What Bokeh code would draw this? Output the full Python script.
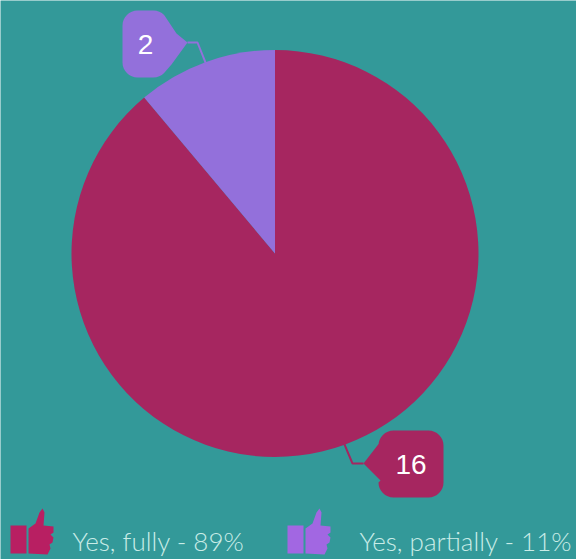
from math import cos, sin, pi, radians
from bokeh.core.properties import value
from bokeh.embed import file_html
from bokeh.models import Range1d
from bokeh.plotting import figure
from bokeh.resources import INLINE

W, H = 576, 559

categories = ["Yes, fully", "Yes, partially"]
counts = [16, 2]
percent_labels = ["89%", "11%"]
slice_colors = ["#A62660", "#9370DB"]
thumb_colors = ["#B81F62", "#A267E2"]
background = "#339999"
legend_text = "#C9ECE7"
font = value("Lato Light")

CX, CY, R = 274.5, 253, 203.5


def fy(y):
    """Page-style y (downwards) to the plot's upward data y."""
    return H - y


p = figure(width=W, height=H, output_backend="svg", toolbar_location=None,
           x_range=Range1d(0, W), y_range=Range1d(0, H), min_border=0,
           background_fill_color=background, border_fill_color=background)
p.axis.visible = False
p.grid.visible = False
p.outline_line_color = None

# Pie: slices run clockwise from 12 o'clock; remember each slice's mid angle.
total = sum(counts)
start = 0.0
mid_angles = []
for count, color in zip(counts, slice_colors):
    sweep = 360.0 * count / total
    p.wedge(x=[CX], y=[fy(CY)], radius=R, start_angle=radians(90 - start),
            end_angle=radians(90 - start - sweep), direction="clock",
            fill_color=color, line_color=None)
    mid_angles.append(start + sweep / 2)
    start += sweep


def corner(cx, cy, r, a0, a1, n=8):
    return [(cx + r * cos(radians(a0 + (a1 - a0) * i / n)),
             cy + r * sin(radians(a0 + (a1 - a0) * i / n))) for i in range(n + 1)]


def callout(x0, y0, x1, y1, tip, side, flare_top, flare_bottom, r=15):
    """Rounded label box with a wedge-shaped pointer on one vertical edge."""
    top_left = corner(x0 + r, y0 + r, r, 180, 270)
    top_right = corner(x1 - r, y0 + r, r, 270, 360)
    bottom_right = corner(x1 - r, y1 - r, r, 0, 90)
    bottom_left = corner(x0 + r, y1 - r, r, 90, 180)
    if side == "left":
        pointer = [(x0 + 2, flare_bottom), tip, (x0 + 2, flare_top)]
        pts = top_right + bottom_right + bottom_left + pointer + top_left
    else:
        pointer = [(x1 - 2, flare_top), (x1 + 8, flare_top + 15), tip, (x1 + 3, flare_bottom - 8), (x1 - 4, flare_bottom)]
        pts = top_left + top_right[:5] + pointer + bottom_right[4:] + bottom_left
    return [q[0] for q in pts], [fy(q[1]) for q in pts]


def rim_point(clock_angle, radius):
    return CX + radius * sin(radians(clock_angle)), CY - radius * cos(radians(clock_angle))


# Value callouts, each with a thin leader from the rim of its slice.
boxes = [
    dict(box=(378, 430, 443, 497), tip=(363, 463), elbow=(352, 463), side="left", flare=(441, 480)),
    dict(box=(122, 10, 168, 77), tip=(187, 42), elbow=(197, 42), side="right", flare=(18, 72)),
]
for count, color, mid, b in zip(counts, slice_colors, mid_angles, boxes):
    x0, y0, x1, y1 = b["box"]
    xs, ys = callout(x0, y0, x1, y1, b["tip"], b["side"], *b["flare"])
    p.patch(xs, ys, fill_color=color, line_color=None)
    anchor = rim_point(mid, R - 1)
    p.line([b["tip"][0], b["elbow"][0], anchor[0]],
           [fy(b["tip"][1]), fy(b["elbow"][1]), fy(anchor[1])],
           line_color=color, line_width=2)
    p.text([(x0 + x1) / 2], [fy((y0 + y1) / 2)], text=[str(count)], text_color="#FFFFFF",
           text_font=value("Liberation Sans"), text_font_size="28px",
           text_align="center", text_baseline="middle")

# Thumbs-up outline: hand polygon and sleeve, in a local icon box.
HAND_X = [32, 34, 33, 43, 43, 40, 43, 42, 39, 40, 37, 18, 18, 25, 29]
HAND_Y = [0, 4, 17, 18, 24, 26, 29, 34, 36, 40, 46, 45, 20, 15, 4]
SLEEVE_X = [0, 16, 16, 0]
SLEEVE_Y = [17, 17, 45, 45]


def thumb(x, y, color):
    p.patch([x + v for v in HAND_X], [fy(y + v) for v in HAND_Y], fill_color=color, line_color=None)
    p.patch([x + v for v in SLEEVE_X], [fy(y + v) for v in SLEEVE_Y], fill_color=color, line_color=None)


legend_layout = [(10, 72), (287, 359)]
for cat, pct, color, (icon_x, text_x) in zip(categories, percent_labels, thumb_colors, legend_layout):
    thumb(icon_x, 508, color)
    p.text([text_x], [fy(540)], text=[f"{cat} - {pct}"], text_color=legend_text,
           text_font=font, text_font_size="26px", text_align="left", text_baseline="middle")

open("out.html", "w").write(file_html(p, INLINE))
